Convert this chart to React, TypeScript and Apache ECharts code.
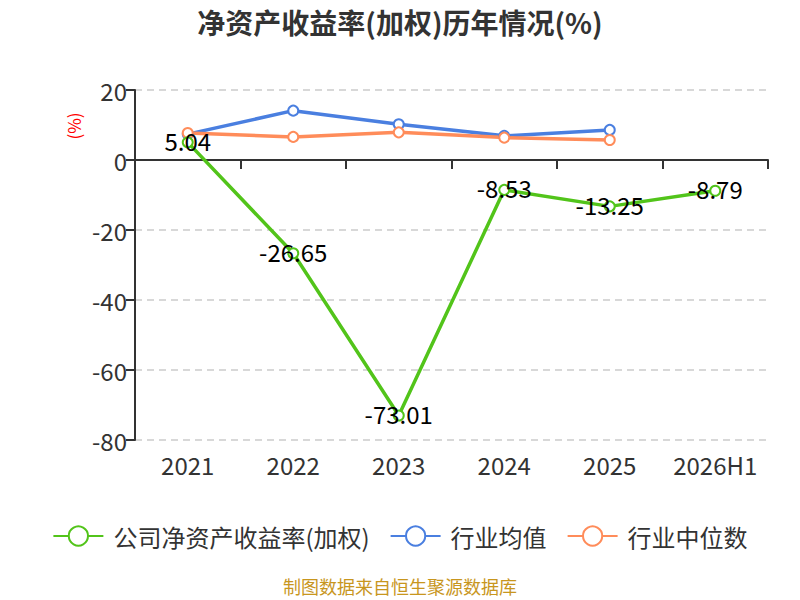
import React, { useEffect, useRef } from "react";
import * as echarts from "echarts";

const categories = ["2021", "2022", "2023", "2024", "2025", "2026H1"];
const companyROE = [5.04, -26.65, -73.01, -8.53, -13.25, -8.79];
const industryAvg = [7.4, 14.1, 10.2, 6.9, 8.6, null];
const industryMedian = [7.7, 6.6, 7.9, 6.4, 5.7, null];
const yTicks = { min: -80, max: 20, interval: 20 };

const FONT = "'Noto Sans CJK SC', 'Noto Sans', sans-serif";

export default function App() {
  const ref = useRef<HTMLDivElement>(null);
  useEffect(() => {
    if (!ref.current) return;
    const chart = echarts.init(ref.current, undefined, { renderer: "svg" });
    chart.setOption({
      animation: false,
      textStyle: { fontFamily: FONT },
      title: {
        text: "净资产收益率(加权)历年情况(%)",
        left: "center",
        top: 3,
        textStyle: { fontSize: 28, fontWeight: "bold", color: "#333", fontFamily: FONT },
      },
      grid: { left: 135, right: 32, top: 90, bottom: 160, containLabel: false },
      legend: {
        top: 519,
        left: "center",
        itemWidth: 50,
        itemHeight: 24,
        itemGap: 20,
        textStyle: { fontSize: 24, color: "#333", fontFamily: FONT, padding: [0, 0, 0, 5] },
        data: ["公司净资产收益率(加权)", "行业均值", "行业中位数"],
      },
      graphic: [
        {
          type: "text",
          left: "center",
          top: 577,
          style: { text: "制图数据来自恒生聚源数据库", fill: "#c8961e", fontSize: 18, fontFamily: FONT },
        },
        {
          type: "text",
          x: 73,
          y: 126,
          rotation: Math.PI / 2,
          style: {
            text: "(%)",
            fill: "#ff0000",
            fontSize: 17,
            fontFamily: FONT,
            align: "center",
            verticalAlign: "middle",
          },
        },
      ],
      xAxis: {
        type: "category",
        data: categories,
        boundaryGap: true,
        axisLine: { onZero: true, lineStyle: { color: "#333", width: 2 } },
        axisTick: { show: true, interval: 0, length: 9, lineStyle: { color: "#333", width: 2 } },
        axisLabel: {
          interval: 0,
          color: "#333",
          fontSize: 24,
          fontFamily: FONT,
          margin: 12,
        },
        position: "bottom",
      },
      yAxis: {
        type: "value",
        min: yTicks.min,
        max: yTicks.max,
        interval: yTicks.interval,
        axisLine: { show: true, lineStyle: { color: "#333", width: 2 } },
        axisTick: { show: true, length: 9, lineStyle: { color: "#333", width: 2 } },
        axisLabel: { color: "#333", fontSize: 24, fontFamily: FONT, margin: 8 },
        splitLine: { show: true, lineStyle: { color: "#ccc", type: [7, 5], width: 1.5 } },
      },
      series: [
        {
          name: "公司净资产收益率(加权)",
          type: "line",
          data: companyROE,
          symbol: "emptyCircle",
          symbolSize: 10,
          itemStyle: { color: "#52c41a", borderWidth: 2 },
          lineStyle: { width: 3.5, color: "#52c41a" },
          z: 3,
          label: {
            show: true,
            position: "inside",
            offset: [0, -2],
            color: "#000",
            fontSize: 24,
            fontFamily: FONT,
            formatter: (p: any) => p.value.toFixed(2),
          },
        },
        {
          name: "行业均值",
          type: "line",
          data: industryAvg,
          symbol: "emptyCircle",
          symbolSize: 10,
          itemStyle: { color: "#4a7fe0", borderWidth: 2 },
          lineStyle: { width: 3.5, color: "#4a7fe0" },
          z: 2,
        },
        {
          name: "行业中位数",
          type: "line",
          data: industryMedian,
          symbol: "emptyCircle",
          symbolSize: 10,
          itemStyle: { color: "#ff8c5a", borderWidth: 2 },
          lineStyle: { width: 3.5, color: "#ff8c5a" },
          z: 2,
        },
      ],
    });
    return () => chart.dispose();
  }, []);
  return (
    <div
      ref={ref}
      style={{ position: "absolute", left: 0, top: 0, width: 800, height: 600 }}
    />
  );
}
